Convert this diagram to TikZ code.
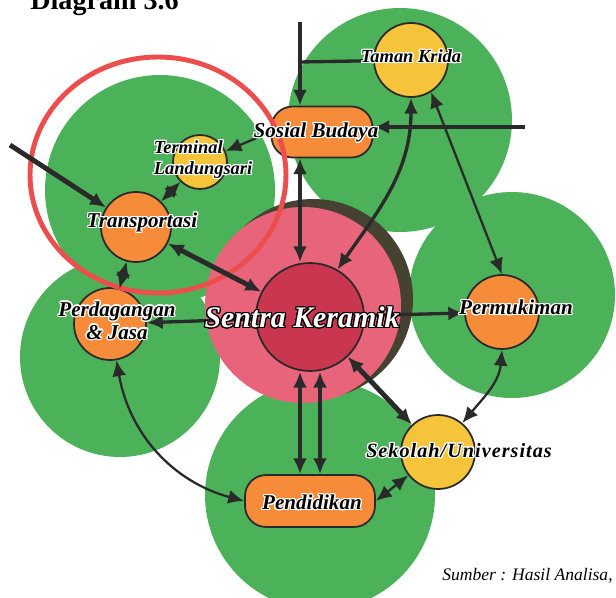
\documentclass[tikz,border=0pt]{standalone}
\usepackage{fontspec}
\setmainfont{Liberation Serif}
\usepackage{contour}
\contourlength{0.7pt}
\usetikzlibrary{arrows.meta}
\definecolor{blobgreen}{RGB}{76,178,90}
\definecolor{hubpink}{RGB}{232,100,122}
\definecolor{hubred}{RGB}{202,54,80}
\definecolor{hubshade}{RGB}{70,66,50}
\definecolor{ringred}{RGB}{236,78,78}
\definecolor{spotorange}{RGB}{246,140,58}
\definecolor{spotyellow}{RGB}{246,196,58}
\definecolor{linkgrey}{RGB}{42,42,42}
\tikzset{
    blob/.style={fill=blobgreen, draw=none},
    spot/.style={circle, draw=linkgrey, line width=1pt, inner sep=0pt},
    pill/.style={rectangle, rounded corners=12pt, draw=linkgrey, line width=1pt,
        fill=spotorange, inner sep=0pt},
    lbl/.style={font=\bfseries\itshape\fontsize{12}{13}\selectfont, inner sep=0pt, align=center},
    small/.style={font=\bfseries\itshape\fontsize{10.5}{12}\selectfont},
    link/.style={draw=linkgrey, line width=1.9pt, -{Latex[length=9pt,width=8pt]}},
    both/.style={link, {Latex[length=9pt,width=8pt]}-{Latex[length=9pt,width=8pt]}},
    thin/.style={line width=1.3pt},
    fat/.style={line width=2.8pt}
}
\newcommand{\spotlabel}[3]{
    \node[lbl,#2] (#1) {#3};
}
\begin{document}
\begin{tikzpicture}[x={(0.02cm,0)}, y={(0,-0.02cm)}]
    \useasboundingbox (0,0) rectangle (616,598);
    \fill[blob] (160,190) circle (115);
    \fill[blob] (400,120) circle (112);
    \fill[blob] (512,295) circle (103);
    \fill[blob] (120,357) circle (100);
    \fill[blob] (320,495) circle (115);
    \fill[hubshade] (313,299) circle (100);
    \fill[hubpink] (303,305) circle (98);

    \node[spot, fill=spotyellow, minimum size=1.48cm] (taman) at (411,60) {};
    \node[pill, minimum width=2.02cm, minimum height=1.02cm] (sosial) at (322,132) {};
    \node[spot, fill=spotyellow, minimum size=1.08cm] (term) at (200,162) {};
    \node[spot, fill=spotorange, minimum size=1.4cm] (trans) at (136,227) {};
    \node[spot, fill=spotorange, minimum size=1.44cm] (perd) at (110,324) {};
    \node[spot, fill=hubred, minimum size=2.16cm] (sentra) at (310,317) {};
    \node[spot, fill=spotorange, minimum size=1.48cm] (perm) at (502,312) {};
    \node[spot, fill=spotyellow, minimum size=1.48cm] (sekolah) at (438,452) {};
    \node[pill, minimum width=2.6cm, minimum height=1.04cm] (pend) at (310,501) {};

    \draw[ringred, line width=2.8pt] (158,175) ellipse [x radius=2.56cm, y radius=2.36cm];

    \coordinate (topin) at (300,22);
    \coordinate (joint) at (300,62);
    \coordinate (rightin) at (525,127);
    \coordinate (leftin) at (10,145);

    \draw[link] (topin) -- (topin |- sosial.north);
    \draw[draw=linkgrey, line width=1.9pt] (taman) -- (joint);
    \draw[link] (rightin) -- (rightin -| sosial.east);
    \draw[link, fat] (leftin) -- (trans);
    \draw[link, thin] (sosial.west) -- (term);
    \draw[both, thin] (term) -- (trans);
    \draw[both, fat] (trans) -- (sentra);
    \draw[both, thin] (trans) -- (perd);
    \draw[link] (sentra) -- (perd);
    \draw[both] (sosial.south -| topin) -- (topin |- sentra.north);
    \draw[both] (taman.south) to[out=-90, in=55] (sentra.60);
    \draw[both, thin] (taman.-58) -- (perm.north);
    \draw[link] (sentra) -- (perm);
    \draw[both, fat] (sentra) -- (sekolah);
    \draw[both, thin] (perm.south) to[out=-95, in=50] (sekolah.50);
    \draw[both] ([xshift=-0.2cm]sentra.south) -- ([xshift=-0.2cm]pend.north);
    \draw[both] ([xshift=0.2cm]sentra.south) -- ([xshift=0.2cm]pend.north);
    \draw[both, thin] (sekolah) -- (pend.east);
    \draw[both, thin] (perd.-80) to[out=-80, in=165] (pend.west);

    \spotlabel{tamanT}{small, at={(411,57)}}{\contour{white}{Taman Krida}}
    \spotlabel{sosialT}{at={(316,133)}}{\contour{white}{Sosial Budaya}}
    \spotlabel{termT}{small, align=left, at={(203,160)}}{\contour{white}{Terminal}\\\contour{white}{Landungsari}}
    \spotlabel{transT}{at={(142,223)}}{\contour{white}{Transportasi}}
    \spotlabel{perdT}{at={(117,321)}}{\contour{white}{Perdagangan}\\\contour{white}{\& Jasa}}
    \spotlabel{sentraT}{font=\bfseries\itshape\fontsize{17}{18}\selectfont, at={(302,318)}}{\contour{black}{\color{white}Sentra Keramik}}
    \spotlabel{permT}{at={(516,308)}}{\contour{white}{Permukiman}}
    \spotlabel{sekolahT}{font=\bfseries\itshape\fontsize{11.5}{12}\selectfont\addfontfeatures{LetterSpace=5}, at={(459,451)}}{\contour{white}{Sekolah/Universitas}}
    \spotlabel{pendT}{at={(312,503)}}{\contour{white}{Pendidikan}}

    \node[font=\bfseries\fontsize{16}{17}\selectfont, anchor=base west, inner sep=0pt] (title) at (30,10) {Diagram 3.6};
    \node[font=\itshape\fontsize{10}{12}\selectfont, anchor=base east, inner sep=0pt] (source) at (613,580) {Sumber : Hasil Analisa,};
\end{tikzpicture}
\end{document}
